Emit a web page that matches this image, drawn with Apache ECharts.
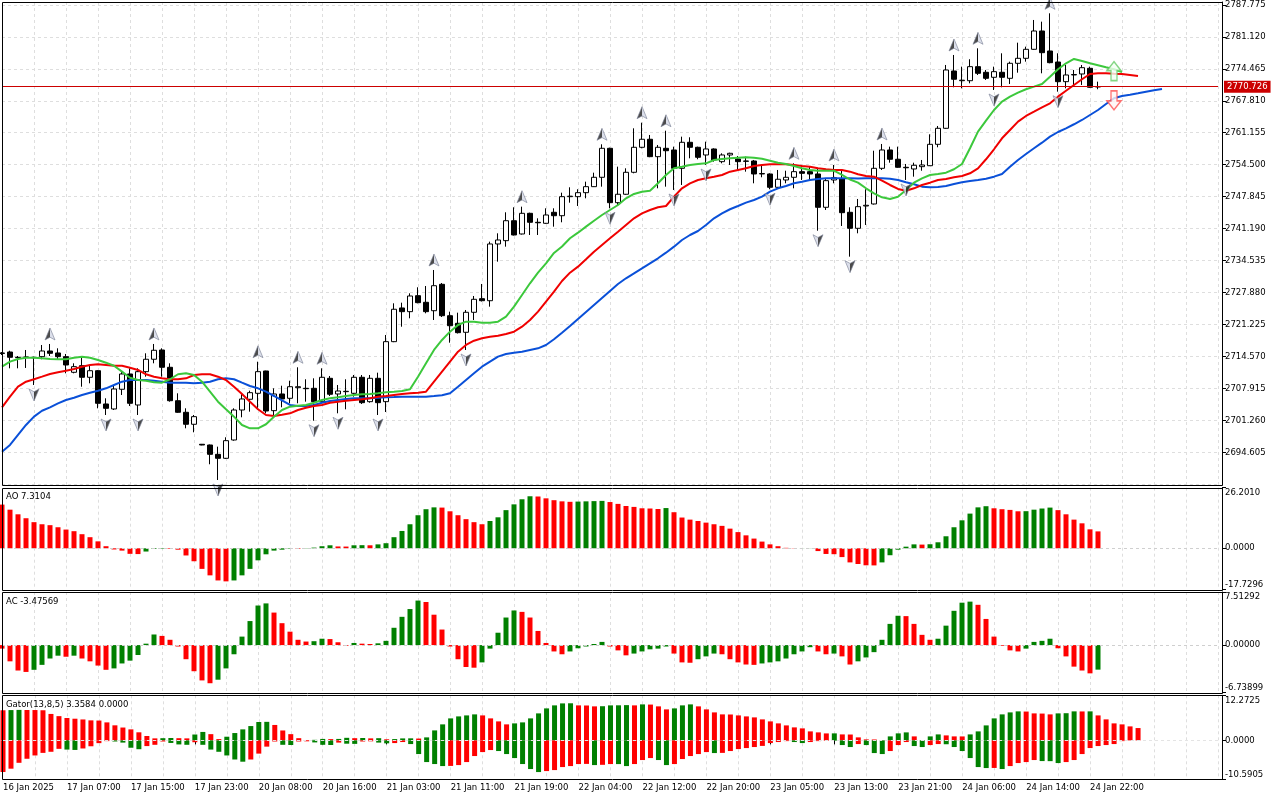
<!DOCTYPE html>
<html>
<head>
<meta charset="utf-8">
<title>XAUUSD H1 - Alligator, AO, AC, Gator</title>
<script src="https://cdn.jsdelivr.net/npm/echarts@6/dist/echarts.min.js"></script>
<style>
  html, body { margin: 0; padding: 0; background: #fff; }
  #chart { width: 1280px; height: 800px; }
</style>
</head>
<body>
<div id="chart"></div>
<script>
// time labels, one every 8 hourly bars
const timeLabels = ["16 Jan 2025", "17 Jan 07:00", "17 Jan 15:00", "17 Jan 23:00", "20 Jan 08:00", "20 Jan 16:00",
  "21 Jan 03:00", "21 Jan 11:00", "21 Jan 19:00", "22 Jan 04:00", "22 Jan 12:00", "22 Jan 20:00",
  "23 Jan 05:00", "23 Jan 13:00", "23 Jan 21:00", "24 Jan 06:00", "24 Jan 14:00", "24 Jan 22:00"]

const opens = [2715.24,2715.55,2714.45,2714.51,2714.45,2714.58,2715.76,2715.35,2714.58,2711.33,
  2712.71,2710.29,2711.66,2704.74,2703.70,2707.80,2710.98,2704.53,2711.46,2714.04,
  2715.97,2712.37,2705.42,2703.01,2700.52,2696.36,2696.21,2694.27,2693.44,2697.25,
  2703.49,2705.72,2706.96,2711.60,2703.35,2706.82,2705.92,2708.13,2708.00,2708.00,
  2705.22,2710.08,2706.82,2707.30,2706.96,2710.29,2705.22,2710.08,2705.22,2717.70,
  2724.71,2723.94,2727.27,2725.89,2724.14,2729.63,2723.10,2721.52,2719.65,2723.81,
  2726.64,2726.22,2738.02,2738.71,2742.86,2740.10,2744.40,2742.53,2742.32,2744.61,
  2743.90,2747.86,2747.86,2748.69,2749.94,2751.89,2757.92,2746.61,2748.36,2752.93,
  2758.13,2759.80,2756.18,2757.92,2757.57,2753.76,2759.17,2758.13,2756.53,2757.78,
  2755.14,2756.53,2755.70,2755.28,2755.28,2752.58,2752.58,2749.81,2751.33,2751.89,
  2753.06,2753.06,2752.58,2745.65,2751.33,2751.54,2744.61,2741.28,2745.92,2746.34,
  2753.76,2757.57,2755.64,2753.97,2753.62,2754.10,2754.30,2758.75,2762.08,2774.00,
  2771.98,2771.98,2774.90,2773.73,2772.69,2773.73,2772.48,2775.60,2776.64,2778.51,
  2782.32,2778.16,2775.87,2771.78,2773.17,2773.38,2774.56,2770.70]
const highs = [2715.55,2715.82,2714.72,2715.97,2714.58,2717.01,2717.22,2716.32,2715.14,2713.20,
  2714.58,2712.71,2711.81,2705.92,2708.69,2711.46,2712.16,2712.16,2715.28,2717.22,
  2716.32,2713.20,2706.96,2703.84,2702.45,2696.42,2696.30,2695.86,2697.81,2703.84,
  2706.96,2707.51,2713.53,2711.66,2708.00,2708.54,2709.58,2712.37,2709.88,2710.08,
  2712.16,2710.56,2708.69,2709.88,2710.77,2710.77,2710.77,2711.25,2719.09,2725.68,
  2725.81,2727.76,2729.01,2729.28,2732.61,2729.90,2723.94,2723.73,2724.29,2727.20,
  2729.70,2738.50,2740.24,2744.61,2745.65,2745.78,2744.53,2743.36,2745.44,2745.44,
  2748.69,2749.81,2749.40,2750.98,2752.85,2758.75,2758.05,2754.10,2753.76,2762.08,
  2763.25,2760.69,2758.61,2761.58,2758.26,2760.34,2760.21,2758.26,2759.30,2757.92,
  2756.88,2757.01,2756.32,2756.18,2755.49,2754.45,2752.72,2753.41,2753.26,2754.80,
  2754.45,2754.24,2753.62,2751.68,2754.45,2753.41,2745.65,2747.38,2749.40,2757.42,
  2758.82,2758.26,2758.26,2754.66,2754.93,2755.49,2760.83,2762.56,2775.25,2777.33,
  2774.90,2776.44,2778.72,2774.21,2774.90,2777.68,2775.94,2779.89,2779.06,2784.61,
  2784.26,2786.00,2777.68,2775.25,2774.21,2775.25,2774.90,2771.78]
const lows = [2714.93,2712.16,2712.16,2712.23,2708.69,2714.04,2714.72,2714.04,2711.12,2711.12,
  2708.33,2709.04,2703.84,2702.45,2703.49,2706.61,2704.32,2702.45,2710.42,2713.20,
  2710.42,2705.22,2702.90,2699.68,2698.85,2696.15,2692.20,2688.93,2693.30,2697.10,
  2701.97,2703.14,2703.49,2702.80,2702.10,2704.05,2704.88,2704.88,2705.22,2701.26,
  2705.01,2706.40,2702.80,2703.63,2706.26,2704.74,2705.01,2702.45,2703.07,2717.60,
  2720.81,2722.56,2725.68,2723.60,2722.21,2722.83,2717.49,2719.40,2715.97,2722.21,
  2726.06,2724.98,2734.34,2737.46,2739.79,2739.99,2739.89,2739.89,2742.22,2741.62,
  2742.53,2746.61,2745.92,2747.52,2749.87,2749.94,2745.44,2746.13,2748.25,2752.72,
  2757.92,2756.07,2749.60,2749.94,2749.25,2750.29,2755.84,2755.64,2754.45,2755.14,
  2754.80,2754.45,2753.41,2753.06,2750.64,2751.89,2749.40,2749.67,2750.64,2749.60,
  2751.33,2751.33,2740.78,2745.09,2750.64,2741.76,2735.38,2740.24,2741.97,2746.23,
  2753.41,2754.93,2753.87,2751.33,2752.02,2753.26,2754.24,2758.13,2761.98,2770.61,
  2770.40,2771.44,2773.17,2772.13,2770.05,2770.61,2771.30,2773.65,2775.94,2778.41,
  2773.52,2775.60,2769.70,2770.40,2771.09,2771.09,2770.50,2770.20]
const closes = [2715.35,2714.45,2714.37,2714.45,2714.37,2715.76,2715.28,2714.58,2712.85,2712.50,
  2710.29,2711.66,2704.88,2703.84,2707.86,2710.98,2704.88,2711.46,2714.04,2715.91,
  2712.37,2705.42,2703.01,2700.52,2702.10,2696.21,2694.27,2693.44,2697.11,2703.49,
  2705.78,2707.09,2711.46,2703.28,2706.82,2705.78,2708.33,2708.33,2707.92,2705.22,
  2710.29,2706.76,2707.44,2707.38,2710.29,2705.01,2710.08,2705.01,2717.70,2724.44,
  2723.94,2727.20,2725.81,2723.94,2729.34,2723.10,2721.02,2719.57,2723.81,2726.51,
  2726.22,2738.02,2738.85,2742.86,2739.89,2744.40,2742.53,2742.43,2744.05,2743.90,
  2747.86,2747.96,2748.69,2749.94,2751.89,2757.92,2746.61,2748.36,2752.93,2758.13,
  2759.80,2756.18,2758.13,2757.42,2753.76,2759.17,2758.13,2756.05,2757.78,2755.49,
  2756.53,2756.88,2755.14,2755.22,2752.58,2752.68,2749.81,2751.48,2751.89,2753.06,
  2752.72,2752.58,2745.65,2751.19,2751.81,2744.53,2741.28,2745.78,2746.07,2753.76,
  2757.57,2755.64,2753.97,2753.87,2754.39,2754.45,2758.75,2762.08,2774.21,2772.28,
  2772.09,2774.90,2773.52,2772.48,2773.86,2772.69,2775.60,2776.64,2778.51,2782.32,
  2777.81,2775.73,2771.78,2773.17,2773.27,2774.69,2770.61,2770.726]

// alligator lines (already shifted forward, as drawn)
const lipsLine = [2712.50,2713.54,2714.10,2714.37,2714.37,2714.24,2714.10,2714.04,2714.04,2714.37,
  2714.58,2714.37,2713.89,2713.33,2712.70,2711.46,2710.21,2709.73,2709.58,2709.25,
  2709.17,2709.88,2710.92,2711.12,2710.77,2709.38,2707.30,2705.22,2703.64,2702.10,
  2700.37,2699.68,2699.68,2700.52,2702.10,2703.49,2704.18,2704.38,2704.53,2705.01,
  2705.57,2705.92,2706.13,2706.40,2706.61,2706.76,2706.82,2706.96,2707.17,2707.30,
  2707.44,2707.80,2710.42,2713.20,2715.97,2718.05,2719.78,2721.17,2721.86,2721.86,
  2721.65,2721.65,2721.86,2722.90,2724.98,2727.41,2729.84,2732.05,2734.00,2736.15,
  2737.50,2739.20,2740.37,2741.62,2742.86,2744.05,2745.09,2746.13,2747.52,2748.42,
  2748.90,2749.10,2750.64,2752.37,2753.76,2754.10,2754.45,2754.66,2754.80,2755.49,
  2755.70,2755.84,2755.97,2756.05,2755.97,2755.76,2755.34,2754.93,2754.66,2754.24,
  2753.76,2753.41,2753.26,2753.26,2753.26,2752.37,2751.43,2750.77,2749.60,2748.56,
  2747.73,2747.38,2747.86,2749.25,2750.77,2751.68,2752.37,2752.58,2752.85,2753.56,
  2754.66,2757.92,2761.38,2763.66,2765.89,2767.62,2768.66,2769.49,2770.20,2770.74,
  2771.30,2772.82,2774.36,2775.60,2776.50,2776.08,2775.60,2775.19,2774.77,2774.36,
  2773.79]
const teethLine = [2704.05,2706.26,2708.34,2709.38,2709.88,2710.42,2710.98,2711.33,2711.66,2712.02,
  2712.50,2712.85,2713.00,2712.85,2712.70,2712.70,2712.29,2711.81,2710.92,2710.42,
  2710.08,2709.88,2709.88,2710.08,2710.77,2710.92,2710.92,2710.42,2709.73,2708.34,
  2706.82,2705.22,2703.64,2702.45,2702.24,2702.51,2702.80,2703.49,2703.97,2704.32,
  2704.53,2705.01,2705.22,2705.42,2705.57,2705.72,2705.92,2706.26,2706.40,2706.61,
  2706.82,2706.96,2707.09,2707.30,2709.38,2711.46,2713.54,2715.62,2717.01,2717.90,
  2718.40,2718.74,2718.94,2719.30,2719.78,2720.82,2722.21,2723.94,2726.02,2728.10,
  2730.32,2732.05,2733.30,2734.84,2736.42,2737.81,2739.20,2740.58,2741.97,2743.36,
  2744.40,2745.09,2745.65,2745.92,2747.86,2749.60,2750.64,2751.33,2751.68,2752.02,
  2752.37,2753.06,2753.41,2753.76,2754.24,2754.45,2754.60,2754.60,2754.60,2754.45,
  2754.24,2754.10,2753.76,2753.56,2753.41,2753.41,2753.06,2752.52,2752.16,2752.02,
  2751.18,2750.29,2749.46,2749.10,2749.60,2750.29,2750.77,2751.33,2751.54,2751.89,
  2752.16,2752.72,2753.76,2755.64,2757.72,2760.00,2761.73,2763.46,2764.64,2765.54,
  2766.45,2767.28,2768.66,2769.90,2771.09,2772.28,2773.38,2773.52,2773.52,2773.44,
  2773.38,2773.17,2772.96]
const jawLine = [2694.82,2696.21,2698.29,2700.37,2702.10,2703.34,2704.05,2704.88,2705.57,2706.05,
  2706.61,2707.09,2707.50,2708.00,2708.69,2709.38,2709.73,2709.73,2709.73,2709.58,
  2709.38,2709.17,2709.17,2709.17,2709.04,2709.17,2709.38,2709.88,2710.08,2709.88,
  2709.17,2708.48,2708.00,2707.30,2706.40,2705.47,2704.53,2704.32,2704.32,2704.53,
  2705.01,2705.36,2705.57,2705.78,2705.92,2705.92,2705.92,2706.05,2706.13,2706.19,
  2706.26,2706.26,2706.26,2706.26,2706.40,2706.55,2706.96,2708.34,2709.73,2711.12,
  2712.50,2713.54,2714.58,2715.14,2715.41,2715.62,2715.97,2716.32,2717.01,2718.20,
  2719.57,2720.96,2722.42,2723.87,2725.33,2726.79,2728.24,2729.70,2730.88,2731.92,
  2732.96,2734.00,2735.04,2736.21,2737.46,2738.85,2739.89,2740.72,2741.97,2743.36,
  2744.40,2745.24,2745.92,2746.61,2747.17,2747.86,2748.90,2749.60,2750.08,2750.64,
  2750.98,2751.33,2751.54,2751.68,2751.68,2751.70,2751.68,2751.66,2751.68,2751.70,
  2751.68,2751.60,2751.33,2750.85,2750.44,2749.94,2749.81,2749.87,2750.08,2750.50,
  2750.85,2751.12,2751.33,2751.60,2752.02,2752.58,2754.10,2755.49,2756.74,2757.92,
  2759.09,2760.34,2761.31,2762.08,2762.92,2763.81,2764.85,2765.89,2767.14,2768.32,
  2768.80,2769.07,2769.36,2769.70,2769.99,2770.26]

// bill williams fractals (bar indexes)
const upFractals = [6, 19, 32, 37, 40, 54, 65, 75, 80, 83, 99, 104, 110, 119, 122, 131]
const downFractals = [4, 13, 17, 27, 39, 42, 47, 58, 76, 84, 88, 96, 102, 106, 113, 124, 132]

// signal arrows near the last bar: [bar, price]
const signalUp = [139, 2773.96]
const signalDown = [139, 2767.91]
const lastPrice = 2770.726

const aoValues = [18.9,16.7,14.7,13.0,11.3,10.4,10.0,9.1,8.1,7.4,
  6.1,4.8,3.0,0.9,-0.5,-1.0,-2.4,-2.5,-1.4,-0.3,
  -0.2,-0.25,-0.6,-3.1,-5.6,-8.9,-11.7,-13.9,-14.3,-13.9,
  -11.7,-8.9,-5.2,-2.6,-1.0,-0.6,-0.2,-0.25,0.1,0.3,
  0.9,1.3,0.8,0.75,1.3,1.35,1.3,1.7,2.2,4.8,
  7.5,10.4,14.3,16.9,17.7,17.6,16.0,14.3,12.6,11.3,
  10.4,11.8,13.4,16.5,19.0,21.2,22.5,22.4,21.6,20.8,
  20.3,20.1,20.2,20.3,20.4,20.5,20.0,19.2,18.3,17.9,
  17.3,17.2,17.0,17.4,15.6,13.3,12.4,11.8,11.1,10.4,
  9.7,8.5,7.0,5.6,4.2,2.9,1.7,0.9,0.2,-0.1,
  -0.05,0.05,-1.2,-2.45,-2.55,-3.8,-6.1,-6.8,-7.35,-7.4,
  -6.1,-3.0,-0.6,0.7,1.7,1.6,1.75,2.6,5.2,9.1,
  12.1,15.0,17.7,18.2,17.3,16.9,16.6,16.0,16.05,16.7,
  17.2,17.6,16.5,14.7,12.4,10.8,8.2,7.3104]
const acValues = [-0.5,-2.3,-3.6,-3.8,-3.5,-2.8,-1.9,-1.5,-1.65,-1.5,
  -1.9,-2.3,-2.9,-3.5,-3.3,-2.6,-2.2,-1.4,0.2,1.5,
  1.3,0.75,-0.2,-2.0,-3.7,-5.0,-5.4,-4.9,-3.3,-1.3,
  1.2,3.4,5.6,5.9,4.6,3.1,1.9,0.75,0.5,0.55,
  0.9,0.85,0.4,-0.1,0.3,0.2,0.15,0.25,0.6,2.45,
  4.0,5.1,6.3,6.1,4.3,2.2,-0.2,-2.0,-3.1,-3.2,
  -2.45,-0.5,1.75,3.9,4.9,4.7,3.9,2.0,0.3,-0.9,
  -1.3,-0.9,-0.45,-0.2,0.15,0.45,-0.2,-0.75,-1.45,-1.2,
  -0.9,-0.6,-0.5,-0.2,-1.2,-2.45,-2.5,-2.0,-1.6,-1.2,
  -1.3,-2.0,-2.45,-2.75,-2.8,-2.6,-2.45,-2.3,-1.9,-1.3,
  -0.9,-0.3,-0.9,-1.3,-1.2,-1.6,-2.75,-2.3,-1.75,-1.0,
  0.75,3.0,4.15,4.1,3.0,1.45,0.75,0.9,2.75,4.85,
  6.0,6.15,5.7,3.7,1.2,-0.1,-0.75,-0.9,-0.5,0.45,
  0.6,0.9,-0.45,-1.6,-3.05,-3.6,-4.0,-3.47569]
// gator: upper = |jaw - teeth|, lower = |teeth - lips| (drawn below zero)
const gatorUpper = [8.2,8.25,8.3,8.28,8.26,8.2,7.2,6.6,6.1,5.9,
  5.7,5.45,5.4,4.9,4.1,3.5,3.0,2.2,1.2,0.55,
  0.6,0.65,0.6,0.55,1.6,2.3,1.7,0.35,1.0,2.0,
  3.0,3.9,5.0,5.05,4.2,2.7,1.7,0.6,0.1,0.15,
  0.4,0.35,0.4,0.7,0.6,0.65,0.55,0.6,0.3,0.36,
  0.54,0.56,0.5,0.82,2.72,4.36,5.99,6.53,6.8,7.08,
  6.8,5.99,5.17,4.36,4.63,4.9,5.99,7.35,8.71,9.53,
  10.07,10.1,9.53,9.5,9.26,9.3,9.53,9.55,9.6,9.53,
  9.8,9.75,9.26,8.44,8.71,9.53,9.8,9.26,8.44,7.62,
  7.08,7.05,6.8,6.53,6.26,5.72,5.17,4.63,4.08,3.54,
  3.27,2.45,2.18,1.9,1.91,1.63,1.6,0.82,0.27,0.25,
  0.05,1.09,1.91,2.18,1.09,0.05,1.09,1.63,1.36,1.09,
  1.08,1.63,2.45,4.08,5.99,7.08,7.62,7.9,7.85,7.35,
  7.3,7.08,7.35,7.4,7.9,7.88,7.9,6.8,5.72,4.63,
  4.36,3.81,3.3584]
const gatorLower = [8.6,7.7,6.1,5.0,4.1,3.4,3.1,2.3,2.5,2.6,
  2.2,1.6,0.75,0.2,0.3,0.6,2.0,2.4,1.55,1.2,
  0.3,0.7,1.1,1.2,0.5,1.2,2.5,3.1,4.1,5.2,
  5.8,5.2,3.6,1.7,0.3,1.2,1.25,0.3,0.25,0.55,
  1.2,1.25,0.6,0.9,0.95,0.3,0.25,0.6,0.8,0.73,
  0.45,1.0,3.72,5.9,6.44,6.99,6.95,6.72,5.9,4.26,
  3.18,2.63,2.9,3.72,4.81,6.44,7.8,8.62,8.35,8.08,
  7.26,6.99,6.44,6.4,6.72,6.65,6.44,6.45,6.99,6.44,
  5.35,4.81,5.35,6.72,6.44,5.08,4.26,3.72,3.18,3.45,
  3.4,2.9,2.36,2.09,1.81,1.5,0.73,0.45,0.2,0.45,
  0.73,0.45,0.2,0.1,0.12,1.27,1.81,1.0,1.27,3.45,
  3.72,2.9,1.27,0.45,1.54,1.81,1.27,1.0,1.05,1.81,
  2.9,4.81,7.26,7.53,7.5,7.8,6.99,6.17,5.9,5.35,
  5.63,5.65,6.17,5.9,5.35,3.72,2.09,1.54,1.27,1.0,
  0.2]

const FONT = "'DejaVu Sans', sans-serif"
const FS = 8.5
const GREEN = "#008000"
const RED = "#ff0000"
const SLOTS = 153

let cats = []
for (let i = 0; i < SLOTS; i++) {
    cats.push(i % 8 === 0 && timeLabels[i / 8] ? timeLabels[i / 8] : "")
}

// panel top / bottom in pixels
const panels = [[2, 484.7], [487.7, 589.3], [592, 692.7], [695.3, 779.3]]

function colored(vals, sign) {
    return vals.map((v, i) => {
        let prev = i ? vals[i - 1] : v
        return { value: sign * v, itemStyle: { color: v > prev ? GREEN : RED } }
    })
}

function panelYAxis(k, min, max, digits) {
    let txt = { fontFamily: FONT, fontSize: FS, color: "#000" }
    return {
        type: "value", gridIndex: k, position: "right", offset: 4, min: min, max: max,
        axisLine: { show: true, lineStyle: { color: "#000" } },
        axisTick: { show: true, length: 4, customValues: [min, 0, max], lineStyle: { color: "#000" } },
        axisLabel: {
            customValues: [min, 0, max], margin: 3, color: "#000", fontFamily: FONT, fontSize: FS,
            formatter: v => v === max ? "{t|" + v.toFixed(digits) + "}" : v === min ? "{b|" + v.toFixed(digits) + "}" : v.toFixed(digits),
            rich: { t: Object.assign({ padding: [10, 0, 0, 0] }, txt), b: Object.assign({ padding: [0, 0, 10, 0] }, txt) }
        },
        splitLine: { show: false }
    }
}

function zeroLine(color) {
    return {
        symbol: "none", silent: true, animation: false, label: { show: false },
        lineStyle: { color: color, width: 1, type: [3, 3] },
        data: [{ yAxis: 0 }]
    }
}

const upSymbol = "path://M5,0 L10,13 L5,10 L0,13 Z"
const downSymbol = "path://M0,0 L5,3 L10,0 L5,13 Z"
const fractalFill = (dark, light) => ({
    type: "linear", x: 0, y: 0, x2: 1, y2: 0,
    colorStops: [{ offset: 0, color: dark }, { offset: 0.5, color: dark }, { offset: 0.5, color: light }, { offset: 1, color: light }]
})

let myChart = echarts.init(document.getElementById("chart"))

let options = {
    animation: false,
    backgroundColor: "#fff",
    title: [
        { text: "AO " + aoValues[aoValues.length - 1].toFixed(4), left: 6, top: 492 },
        { text: "AC " + acValues[acValues.length - 1].toFixed(5), left: 6, top: 597 },
        { text: "Gator(13,8,5) " + gatorUpper[gatorUpper.length - 1].toFixed(4) + " 0.0000", left: 6, top: 700 }
    ].map(t => Object.assign(t, { padding: 0, textStyle: { fontFamily: FONT, fontSize: FS, fontWeight: "normal", color: "#000" } })),
    grid: panels.map(p => ({ left: 2, width: 1216, top: p[0], height: p[1] - p[0] })),
    xAxis: panels.map((p, k) => ({
        type: "category", gridIndex: k, data: cats, boundaryGap: false,
        axisLine: { show: false },
        axisTick: { show: k === 3, length: 4, interval: i => i % 8 === 0 && i <= 136, lineStyle: { color: "#000" } },
        axisLabel: { show: k === 3, interval: 0, align: "left", margin: 4, color: "#000", fontFamily: FONT, fontSize: FS },
        splitLine: { show: true, interval: i => i > 0 && i % 4 === 0, lineStyle: { color: "#dedede", type: [3, 3] } }
    })),
    yAxis: [
        {
            type: "value", gridIndex: 0, position: "right", offset: 4,
            min: 2687.95, max: 2788.35, interval: 6.655,
            axisLine: { show: true, lineStyle: { color: "#000" } },
            axisTick: { show: true, length: 4, lineStyle: { color: "#000" } },
            axisLabel: { showMinLabel: false, showMaxLabel: false, margin: 3, color: "#000", fontFamily: FONT, fontSize: FS, formatter: v => v.toFixed(3) },
            splitLine: { show: true, lineStyle: { color: "#dedede", type: [3, 3] } }
        },
        panelYAxis(1, -17.7296, 26.2010, 4),
        panelYAxis(2, -6.73899, 7.51292, 5),
        panelYAxis(3, -10.5905, 12.2725, 4)
    ],
    series: [{
        type: "candlestick",
        xAxisIndex: 0, yAxisIndex: 0,
        barWidth: 5,
        data: opens.map((o, i) => [o, closes[i], lows[i], highs[i]]),
        itemStyle: { color: "#fff", color0: "#000", borderColor: "#000", borderColor0: "#000", borderWidth: 1 },
        markLine: {
            symbol: "none", silent: true, animation: false,
            lineStyle: { color: "#cc0000", width: 1, type: "solid" },
            label: {
                show: true, position: "end", distance: 6, formatter: lastPrice.toFixed(3),
                color: "#fff", backgroundColor: "#cc0000", padding: [2, 3, 1, 3], fontFamily: FONT, fontSize: FS
            },
            data: [{ yAxis: lastPrice }]
        }
    }, {
        name: "Jaw", type: "line", xAxisIndex: 0, yAxisIndex: 0, data: jawLine,
        showSymbol: false, lineStyle: { color: "#0a50d8", width: 2 }, z: 3
    }, {
        name: "Teeth", type: "line", xAxisIndex: 0, yAxisIndex: 0, data: teethLine,
        showSymbol: false, lineStyle: { color: "#f00000", width: 2 }, z: 3
    }, {
        name: "Lips", type: "line", xAxisIndex: 0, yAxisIndex: 0, data: lipsLine,
        showSymbol: false, lineStyle: { color: "#3cc83c", width: 2 }, z: 3
    }, {
        type: "scatter", xAxisIndex: 0, yAxisIndex: 0, z: 4,
        data: upFractals.map(i => [i, highs[i]]),
        symbol: upSymbol, symbolSize: [10, 12], symbolOffset: [0, -10],
        itemStyle: { color: fractalFill("#1e1e1e", "#d4d8e6"), borderColor: "#7c8296", borderWidth: 0.8 }
    }, {
        type: "scatter", xAxisIndex: 0, yAxisIndex: 0, z: 4,
        data: downFractals.map(i => [i, lows[i]]),
        symbol: downSymbol, symbolSize: [10, 12], symbolOffset: [0, 10],
        itemStyle: { color: fractalFill("#d4d8e6", "#1e1e1e"), borderColor: "#7c8296", borderWidth: 0.8 }
    }, {
        type: "scatter", xAxisIndex: 0, yAxisIndex: 0, z: 5,
        data: [signalUp],
        symbol: "path://M7,0 L14,9 L10,9 L10,19 L4,19 L4,9 L0,9 Z", symbolSize: [14, 19],
        itemStyle: { color: "#f4fff4", borderColor: "#66cc66", borderWidth: 1.5 }
    }, {
        type: "scatter", xAxisIndex: 0, yAxisIndex: 0, z: 5,
        data: [signalDown],
        symbol: "path://M4,0 L10,0 L10,10 L14,10 L7,19 L0,10 L4,10 Z", symbolSize: [14, 19],
        itemStyle: { color: "#fff4f4", borderColor: "#ff5050", borderWidth: 1.5 }
    }, {
        name: "AO", type: "bar", xAxisIndex: 1, yAxisIndex: 1, barWidth: 5,
        data: colored(aoValues, 1), markLine: zeroLine("#cfcfcf")
    }, {
        name: "AC", type: "bar", xAxisIndex: 2, yAxisIndex: 2, barWidth: 5,
        data: colored(acValues, 1), markLine: zeroLine("#cfcfcf")
    }, {
        name: "Gator up", type: "bar", xAxisIndex: 3, yAxisIndex: 3, barWidth: 5, barGap: "-100%",
        data: colored(gatorUpper, 1)
    }, {
        name: "Gator down", type: "bar", xAxisIndex: 3, yAxisIndex: 3, barWidth: 5, barGap: "-100%",
        data: colored(gatorLower, -1), markLine: zeroLine("#e4e4e4")
    }],
    graphic: panels.map(p => ({
        type: "rect", silent: true, z: 100,
        shape: { x: 2.5, y: Math.round(p[0]) + 0.5, width: 1220, height: Math.round(p[1] - p[0]) },
        style: { fill: null, stroke: "#000", lineWidth: 1 }
    }))
}

myChart.setOption(options)
</script>
</body>
</html>
